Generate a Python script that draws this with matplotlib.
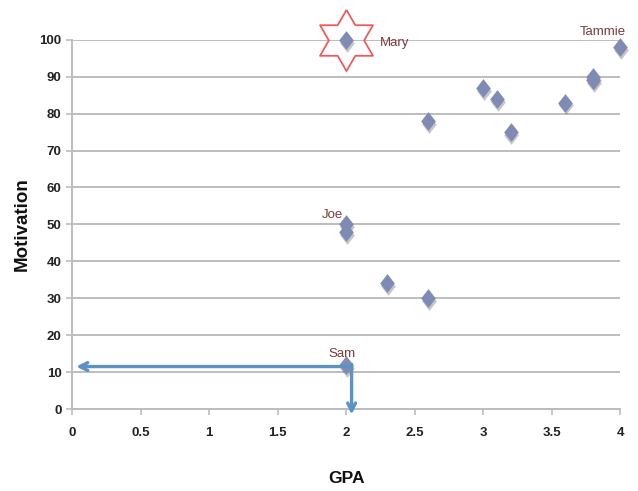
import numpy as np
import matplotlib.pyplot as plt

plt.rcParams['font.family'] = ['Liberation Sans', 'DejaVu Sans']

gpa = [2.0, 2.6, 3.0, 3.1, 3.2, 3.6, 3.8, 3.8, 4.0, 2.0, 2.0, 2.3, 2.6, 2.0]
motivation = [100, 78, 87, 84, 75, 83, 90, 89, 98, 50, 48, 34, 30, 12]

names = ["Mary", "Tammie", "Joe", "Sam"]
name_x = [2.25, 3.87, 1.9, 1.97]
name_y = [99, 102, 52.5, 15]

arrow_start = (2.04, 11.5)
arrow_left_end = (0.03, 11.5)
arrow_down_end = (2.04, -1.5)

# six-pointed star outline, used as a marker shape
ang_out = np.deg2rad(90 + 60 * np.arange(6))
ang_in = ang_out + np.deg2rad(30)
r_in = 1 / np.sqrt(3)
star = []
for a, b in zip(ang_out, ang_in):
    star.append((np.cos(a), np.sin(a)))
    star.append((r_in * np.cos(b), r_in * np.sin(b)))
star.append(star[0])

# tall diamond
diamond = [(0, 1), (0.78, 0), (0, -1), (-0.78, 0), (0, 1)]

fig = plt.figure(figsize=(6.38, 4.91), dpi=100)
ax = fig.add_axes([0.113, 0.167, 0.859, 0.752])

ax.set_xlim(0, 4)
ax.set_ylim(0, 100)
ax.set_xticks(np.arange(0, 4.01, 0.5))
ax.set_xticklabels(["0", "0.5", "1", "1.5", "2", "2.5", "3", "3.5", "4"])
ax.set_yticks(np.arange(0, 101, 10))
ax.yaxis.grid(True, color="#bdbdbd", linewidth=1.4)
ax.set_axisbelow(True)
for s in ["top", "right"]:
    ax.spines[s].set_visible(False)
ax.spines["left"].set_color("#bdbdbd")
ax.spines["bottom"].set_color("#bdbdbd")
ax.spines["left"].set_linewidth(1.4)
ax.spines["bottom"].set_linewidth(1.4)
ax.tick_params(axis="both", colors="#bdbdbd", length=4, width=1.2, labelcolor="#222222",
               labelsize=9.5)
ax.tick_params(axis="x", pad=9)
for lab in ax.get_xticklabels() + ax.get_yticklabels():
    lab.set_fontweight("bold")

# shadow then diamonds
ax.plot(np.array(gpa) + 0.006, np.array(motivation) - 0.8, marker=diamond, linestyle="none",
        color="#444444", alpha=0.3, markersize=13.5, markeredgewidth=0, clip_on=False, zorder=3)
ax.plot(gpa, motivation, marker=diamond, linestyle="none", color="#7d8bb5", markersize=13.5,
        markeredgewidth=0, clip_on=False, zorder=4)

# star around Mary
ax.plot(gpa[0], motivation[0], marker=star, markersize=44, markerfacecolor="none",
        markeredgecolor="#f05a5a", markeredgewidth=1.3, clip_on=False, zorder=5)

for n, x, y in zip(names, name_x, name_y):
    ax.text(x, y, n, color="#7a3a3a", fontsize=9.5, ha="left" if n == "Mary" else "center",
            va="center", zorder=6)

ax.annotate("", xy=arrow_left_end, xytext=arrow_start,
            arrowprops=dict(arrowstyle="->", color="#5b93c7", lw=2.4, mutation_scale=14,
                            shrinkA=0, shrinkB=0), annotation_clip=False, zorder=6)
ax.annotate("", xy=arrow_down_end, xytext=(arrow_start[0], arrow_start[1] + 0.6),
            arrowprops=dict(arrowstyle="->", color="#5b93c7", lw=2.4, mutation_scale=14,
                            shrinkA=0, shrinkB=0), annotation_clip=False, zorder=6)

ax.set_xlabel("GPA", fontsize=12.5, fontweight="bold", labelpad=23, color="#111111")
ax.set_ylabel("Motivation", fontsize=13.5, fontweight="bold", labelpad=6, color="#111111")

fig.savefig("out.png", dpi=100)
